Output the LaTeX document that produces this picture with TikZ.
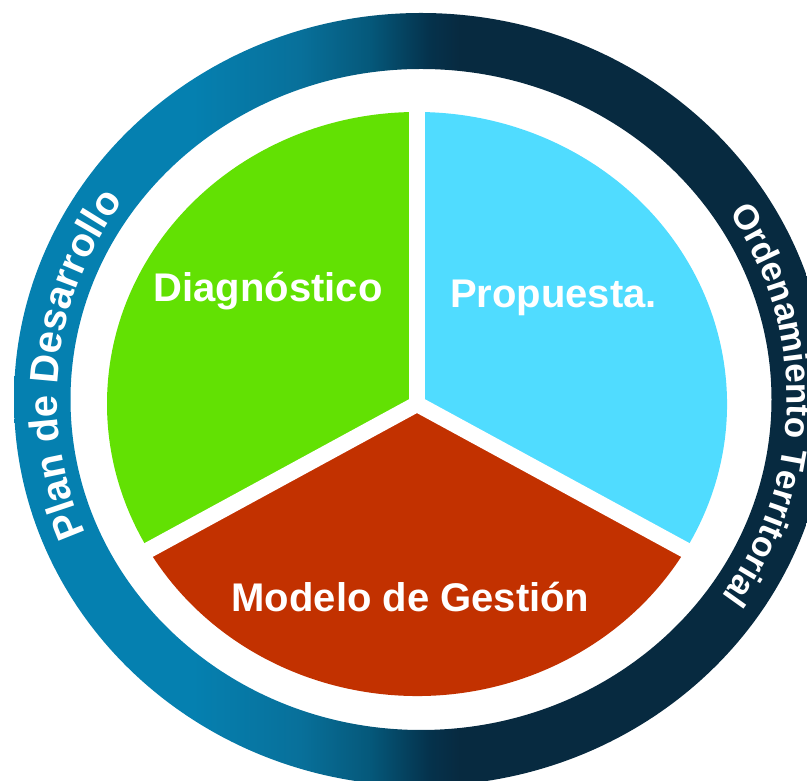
\documentclass[tikz,border=0pt]{standalone}
\usepackage{fontspec}
\setmainfont{Liberation Sans}
\usetikzlibrary{decorations.text}

\definecolor{ringblue}{RGB}{5,128,176}
\definecolor{ringnavy}{RGB}{7,42,64}
\definecolor{diaggreen}{RGB}{98,225,3}
\definecolor{propcyan}{RGB}{80,220,255}
\definecolor{modred}{RGB}{194,49,0}

% blue on the left, navy from the middle on
\pgfdeclarehorizontalshading{ringshade}{100bp}{%
  color(0bp)=(ringblue); color(36bp)=(ringblue);
  rgb(42.6bp)=(0.031,0.439,0.604);
  rgb(46.9bp)=(0.020,0.345,0.478);
  rgb(50.5bp)=(0.020,0.196,0.298);
  color(52.4bp)=(ringnavy); color(100bp)=(ringnavy)}

\newcommand{\ringfont}[1]{\fontsize{#1}{#1}\selectfont\bfseries}

\begin{document}
\begin{tikzpicture}[
    x=1pt, y=1pt,
    sector/.style={fill=#1},
    sepline/.style={white, line width=16pt},
    seclabel/.style={font=\ringfont{40}, text=white, anchor=base, inner sep=0pt},
    ringtext/.style={decorate, decoration={text along path, text align=center,
                     text color=white, text={#1}}}
]
\useasboundingbox (0,0) rectangle (807,781);
\clip (0,0) rectangle (807,781);

\coordinate (rc) at (421,381.5);
\coordinate (pc) at (417,377);

% ---- outer ring ----
\shade[shading=ringshade, even odd rule]
      (rc) ellipse [x radius=407, y radius=386.5]
      (rc) ellipse [x radius=350.5, y radius=330.5];

\path[ringtext={|\ringfont{40}|Plan de Desarrollo}]
      ([shift={(rc)}]230:364 and 344)
      arc[start angle=230, end angle=118, x radius=364, y radius=344];
\path[ringtext={|\ringfont{35}|Ordenamiento Territorial}]
      ([shift={(rc)}]60:366 and 346)
      arc[start angle=60, end angle=-62, x radius=366, y radius=346];

% ---- pie ----
\fill[sector=diaggreen] (pc) -- ([shift={(pc)}]90:310 and 292)
      arc[start angle=90, end angle=210, x radius=310, y radius=292] -- cycle;
\fill[sector=propcyan] (pc) -- ([shift={(pc)}]-30:310 and 292)
      arc[start angle=-30, end angle=90, x radius=310, y radius=292] -- cycle;
\fill[sector=modred] (pc) -- ([shift={(pc)}]210:310 and 292)
      arc[start angle=210, end angle=330, x radius=310, y radius=292] -- cycle;
\foreach \a in {90,210,330}
  \draw[sepline] (pc) -- ([shift={(pc)}]\a:330 and 311);

\node[seclabel] (diag)   at (268,479)   {Diagnóstico};
\node[seclabel] (prop)   at (553.5,473) {Propuesta.};
\node[seclabel] (modelo) at (410.5,169) {Modelo de Gestión};

\end{tikzpicture}
\end{document}
